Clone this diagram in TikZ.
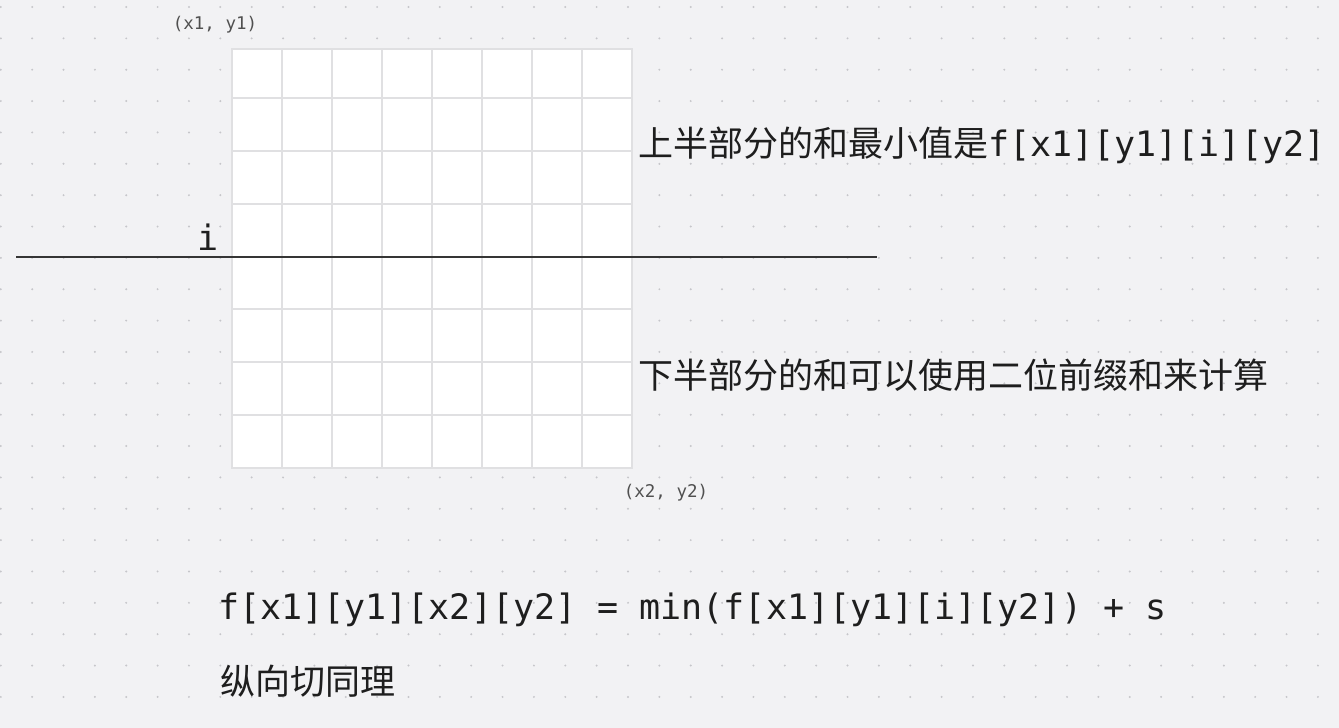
\documentclass[tikz,border=0pt]{standalone}
\usepackage{fontspec}
\newfontfamily\cjkfont{Noto Sans CJK SC}
\newfontfamily\monofont{DejaVu Sans Mono}
\definecolor{bgc}{RGB}{242,242,244}
\definecolor{dotc}{RGB}{198,198,202}
\definecolor{gridc}{RGB}{224,224,226}
\definecolor{txtc}{RGB}{30,30,30}
\definecolor{smallc}{RGB}{80,80,80}
\begin{document}
\begin{tikzpicture}[x=1pt,y=-1pt,
  big/.style={inner sep=0pt,text=txtc,font=\fontsize{35}{42}\selectfont},
  small/.style={inner sep=0pt,text=smallc,font=\monofont\fontsize{17.5}{20}\selectfont},
  gridline/.style={draw=gridc,line width=1.1pt},
  cutline/.style={draw=txtc!90,line width=2pt}]
\useasboundingbox (0,0) rectangle (1339,728);
\fill[bgc] (0,0) rectangle (1339,728);
% dot grid
\foreach \i in {0,...,42}{
  \foreach \j in {0,...,22}{
    \fill[dotc] ({0.8+31.36*\i},{7+31.36*\j}) circle (1.1);
  }
}
% matrix
\fill[white] (232,49) rectangle (632,468);
\foreach \yy in {98,151,204,309,362,415}{
  \draw[gridline] (232,\yy) -- (632,\yy);
}
\foreach \xx in {282,332,382,432,482,532,582}{
  \draw[gridline] (\xx,49) -- (\xx,468);
}
\draw[gridline] (232,49) rectangle (632,468);
% cut line
\coordinate (cutL) at (16,257);
\coordinate (cutR) at (877,257);
\draw[cutline] (cutL) -- (cutR);
% labels
\node[small] (tl) at (215,25) {(x1, y1)};
\node[small] (br) at (666,493) {(x2, y2)};
\node[big,font=\monofont\fontsize{35}{42}\selectfont] (ilab) at (208,237) {i};
\node[big,anchor=west] (upper) at (638,145) {{\cjkfont 上半部分的和最小值是}{\monofont f[x1][y1][i][y2]}};
\node[big,anchor=west] (lower) at (638,375) {\cjkfont 下半部分的和可以使用二位前缀和来计算};
\node[big,anchor=west,font=\monofont\fontsize{35}{42}\selectfont] (formula) at (218,610) {f[x1][y1][x2][y2] = min(f[x1][y1][i][y2]) + s};
\node[big,anchor=west] (vert) at (220,681) {\cjkfont 纵向切同理};
\end{tikzpicture}
\end{document}
